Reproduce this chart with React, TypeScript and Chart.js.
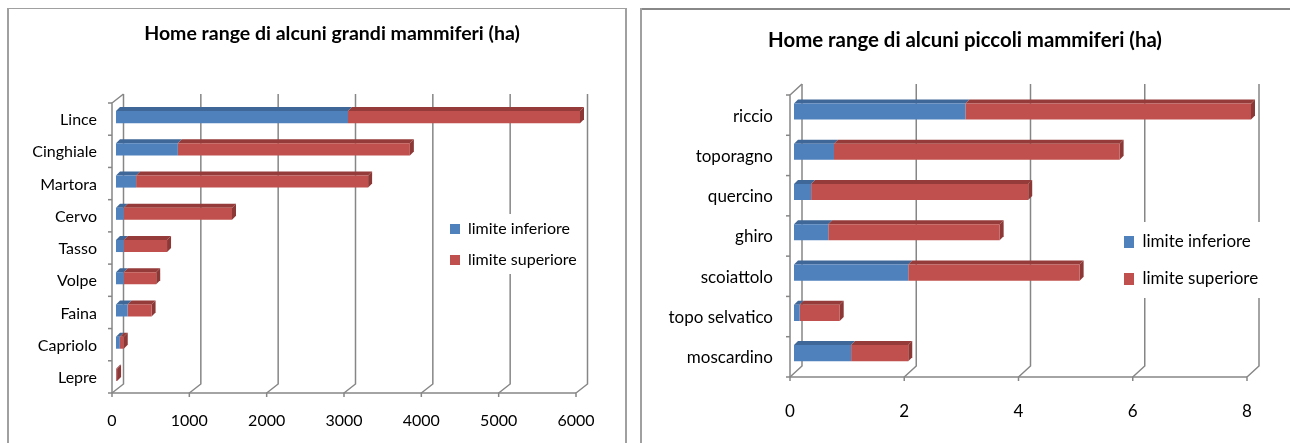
import React, { useEffect, useRef } from "react";
import { Chart, registerables } from "chart.js";

Chart.register(...registerables);

const largeCategories = ["Lince", "Cinghiale", "Martora", "Cervo", "Tasso", "Volpe", "Faina", "Capriolo", "Lepre"];
const largeLower = [3000, 800, 260, 100, 100, 100, 150, 50, 2];
const largeUpper = [3000, 3000, 3000, 1400, 560, 420, 310, 50, 12];

const smallCategories = ["riccio", "toporagno", "quercino", "ghiro", "scoiattolo", "topo selvatico", "moscardino"];
const smallLower = [3, 0.7, 0.3, 0.6, 2, 0.1, 1];
const smallUpper = [5, 5, 3.8, 3, 3, 0.7, 1];

const seriesNames = ["limite inferiore", "limite superiore"];
const FONT = "Lato, 'Open Sans', sans-serif";
const AXIS = "#868686";
const SHADES = [
  { front: "#4f81bd", top: "#3f6797", side: "#385d8a" },
  { front: "#c0504d", top: "#953b39", side: "#8c3836" },
];

type Cfg = {
  left: number; top: number; width: number; height: number;
  title: string; titleSize: number; titleTop: number;
  categories: string[]; lower: number[]; upper: number[];
  max: number; step: number;
  area: { l: number; r: number; t: number; b: number };
  depthX: number; depthY: number;
  barShift: [number, number]; barFace: number; barPct: number;
  fontSize: number; legendSize: number; tickGap: number; labelGap: number; labelOffset: number;
  legendBox: { x: number; y: number; w: number; h: number };
  legendLeft: number; legendTop: number; legendPad: number;
  boxW: number; boxH: number;
};

const makePlugin = (c: Cfg) => ({
  id: "three-d",
  afterLayout(chart: any) {
    const l = chart.legend;
    if (l) {
      const w = l.width, h = l.height;
      l.left = c.legendLeft - c.left; l.top = c.legendTop - c.top;
      l.right = l.left + w; l.bottom = l.top + h;
    }
    const t = chart.titleBlock;
    if (t) {
      t.left = 0;
      t.right = c.width;
      t.width = c.width;
    }
  },
  beforeDraw(chart: any) {
    const { ctx, chartArea: a, scales } = chart;
    const x = scales.x, y = scales.y;
    ctx.save();
    ctx.strokeStyle = AXIS;
    ctx.lineWidth = 1.5;
    const seg = (pts: number[][]) => {
      ctx.beginPath();
      pts.forEach((p, i) => (i ? ctx.lineTo(p[0], p[1]) : ctx.moveTo(p[0], p[1])));
      ctx.stroke();
    };
    x.ticks.forEach((_: any, i: number) => {
      const px = x.getPixelForTick(i);
      seg([[px, a.bottom + 4], [px, a.bottom], [px + c.depthX, a.bottom - c.depthY], [px + c.depthX, a.top - c.depthY]]);
    });
    seg([[a.left, a.bottom], [a.right, a.bottom]]);
    seg([[a.left, a.bottom], [a.left, a.top], [a.left + c.depthX, a.top - c.depthY]]);
    const n = c.categories.length;
    for (let i = 0; i <= n; i++) {
      const py = y.getPixelForValue(i - 0.5);
      seg([[a.left - 4, py], [a.left, py]]);
    }
    const b = c.legendBox;
    ctx.fillStyle = "#ffffff";
    ctx.fillRect(b.x - c.left, b.y - c.top, b.w, b.h);
    ctx.restore();
  },
  beforeDatasetsDraw(chart: any) {
    const { ctx } = chart;
    ctx.save();
    ctx.translate(c.barShift[0], c.barShift[1]);
    const d = c.barFace;
    chart.data.datasets.forEach((_: any, si: number) => {
      const meta = chart.getDatasetMeta(si);
      meta.data.forEach((bar: any) => {
        const p = bar.getProps(["x", "y", "base", "height"], true);
        const t = p.y - p.height / 2, bot = p.y + p.height / 2;
        ctx.fillStyle = SHADES[si].top;
        ctx.beginPath();
        ctx.moveTo(p.base, t);
        ctx.lineTo(p.base + d, t - d);
        ctx.lineTo(p.x + d, t - d);
        ctx.lineTo(p.x, t);
        ctx.closePath();
        ctx.fill();
        if (si === 1) {
          ctx.fillStyle = SHADES[si].side;
          ctx.beginPath();
          ctx.moveTo(p.x, t);
          ctx.lineTo(p.x + d, t - d);
          ctx.lineTo(p.x + d, bot - d);
          ctx.lineTo(p.x, bot);
          ctx.closePath();
          ctx.fill();
        }
      });
    });
  },
  afterDatasetsDraw(chart: any) {
    chart.ctx.restore();
  },
});

function Panel({ c }: { c: Cfg }) {
  const ref = useRef<HTMLCanvasElement>(null);
  useEffect(() => {
    const titleLine = c.titleSize * 1.2;
    const chart = new Chart(ref.current as HTMLCanvasElement, {
      type: "bar",
      plugins: [makePlugin(c)],
      data: {
        labels: c.categories,
        datasets: [
          { label: seriesNames[0], data: c.lower, backgroundColor: SHADES[0].front, borderWidth: 0, barPercentage: c.barPct, categoryPercentage: 1 },
          { label: seriesNames[1], data: c.upper, backgroundColor: SHADES[1].front, borderWidth: 0, barPercentage: c.barPct, categoryPercentage: 1 },
        ],
      },
      options: {
        indexAxis: "y",
        responsive: false,
        animation: false,
        layout: { padding: { top: 0, left: 0, bottom: 0, right: c.left + c.width - c.area.r } },
        scales: {
          x: {
            stacked: true, min: 0, max: c.max,
            afterFit: (s: any) => { s.height = c.height - (c.area.b - c.top); },
            grid: { display: false, drawTicks: false }, border: { display: false },
            ticks: {
              stepSize: c.step, color: "#000", padding: c.tickGap, maxRotation: 0,
              callback: (v: any) => String(v),
              font: { family: FONT, size: c.fontSize },
            },
          },
          y: {
            stacked: true,
            afterFit: (s: any) => { s.width = c.area.l - c.left; },
            grid: { display: false, drawTicks: false }, border: { display: false },
            ticks: { color: "#000", padding: c.labelGap, labelOffset: c.labelOffset, autoSkip: false, font: { family: FONT, size: c.fontSize } },
          },
        },
        plugins: {
          tooltip: { enabled: false },
          title: {
            display: true, text: c.title, color: "#000",
            padding: { top: c.titleTop, bottom: c.area.t - c.top - c.titleTop - titleLine },
            font: { family: FONT, size: c.titleSize, weight: "bold", lineHeight: 1.2 },
          },
          legend: {
            position: "chartArea", align: "start",
            labels: {
              color: "#000", boxWidth: c.boxW, boxHeight: c.boxH, padding: c.legendPad,
              font: { family: FONT, size: c.legendSize },
            },
          },
        },
      } as any,
    } as any);
    return () => chart.destroy();
  }, []);
  return (
    <canvas
      ref={ref}
      width={c.width}
      height={c.height}
      style={{ position: "absolute", left: c.left, top: c.top, width: c.width, height: c.height }}
    />
  );
}

const largeCfg: Cfg = {
  left: 8, top: 9, width: 648, height: 434,
  title: "Home range di alcuni grandi mammiferi (ha)", titleSize: 19.5, titleTop: 12.6,
  categories: largeCategories, lower: largeLower, upper: largeUpper,
  max: 6000, step: 1000,
  area: { l: 112, r: 576, t: 103, b: 393 },
  depthX: 11.5, depthY: 9,
  barShift: [4, -2], barFace: 4, barPct: 0.375,
  fontSize: 16, legendSize: 16, tickGap: 18, labelGap: 15, labelOffset: 1,
  legendBox: { x: 445, y: 214, w: 132, h: 60 },
  legendLeft: 435, legendTop: 206, legendPad: 15,
  boxW: 10, boxH: 10,
};

const smallCfg: Cfg = {
  left: 642, top: 9, width: 646, height: 434,
  title: "Home range di alcuni piccoli mammiferi (ha)", titleSize: 20.4, titleTop: 19,
  categories: smallCategories, lower: smallLower, upper: smallUpper,
  max: 8, step: 2,
  area: { l: 790, r: 1247, t: 95, b: 377 },
  depthX: 12, depthY: 11,
  barShift: [4, -3.7], barFace: 4, barPct: 0.4,
  fontSize: 17, legendSize: 17, tickGap: 24, labelGap: 17, labelOffset: 1,
  legendBox: { x: 1115, y: 222, w: 145, h: 76 },
  legendLeft: 1104, legendTop: 213.5, legendPad: 20,
  boxW: 10, boxH: 12,
};

export default function App() {
  return (
    <div style={{ position: "absolute", left: 0, top: 0, width: 1290, height: 443, background: "#fff", overflow: "hidden" }}>
      <div style={{ position: "absolute", left: 7, top: 8, width: 616, height: 445, border: "2px solid #a0a0a0", borderTopWidth: 1 }} />
      <div style={{ position: "absolute", left: 640, top: 8, width: 660, height: 0, borderTop: "2px solid #888888" }} />
      <div style={{ position: "absolute", left: 640, top: 8, width: 0, height: 445, borderLeft: "2px solid #a0a0a0" }} />
      <Panel c={largeCfg} />
      <Panel c={smallCfg} />
    </div>
  );
}
